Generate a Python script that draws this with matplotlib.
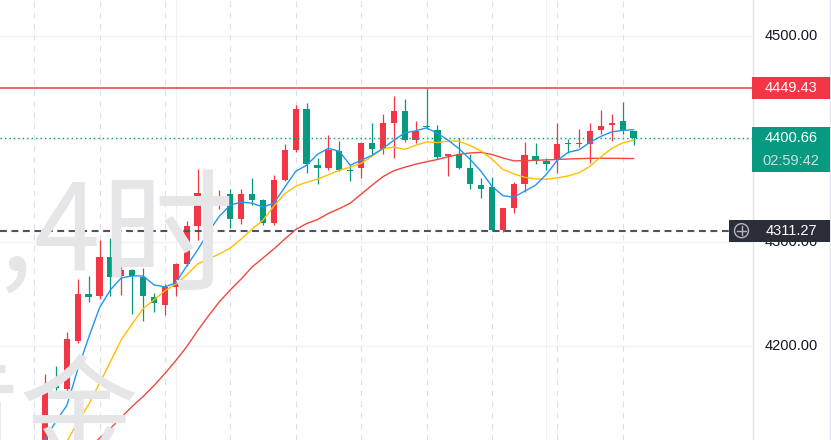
import numpy as np
import matplotlib
matplotlib.use("Agg")
import matplotlib.pyplot as plt
from matplotlib.patches import Rectangle, Ellipse

# ---------------- data (4h candles) ----------------
opens = [4090.0, 4161.7, 4158.5, 4204.5, 4249.9, 4247.6, 4286.2, 4267.5, 4273.3, 4266.9,
         4247.0, 4239.6, 4257.2, 4278.8, 4315.8, 4347.9, 4340.2, 4346.6, 4322.5, 4346.6,
         4340.8, 4318.4, 4360.1, 4389.1, 4429.3, 4374.6, 4372.0, 4388.4, 4370.5, 4372.0,
         4396.1, 4390.7, 4415.4, 4427.0, 4399.4, 4413.0, 4408.5, 4383.3, 4385.2, 4372.4,
         4355.3, 4353.1, 4311.9, 4333.4, 4356.9, 4383.3, 4378.5, 4379.4, 4396.1, 4394.9,
         4395.5, 4408.4, 4413.2, 4417.0, 4407.4]
highs = [4172.7, 4180.0, 4213.5, 4264.6, 4267.8, 4302.3, 4303.9, 4284.6, 4274.3, 4275.0,
         4251.4, 4259.5, 4280.4, 4320.3, 4371.4, 4357.9, 4350.5, 4352.1, 4352.1, 4361.8,
         4341.5, 4364.9, 4394.9, 4433.4, 4434.7, 4382.0, 4403.5, 4398.0, 4374.6, 4397.1,
         4415.4, 4423.8, 4441.2, 4438.9, 4417.3, 4449.43, 4413.2, 4385.2, 4401.3, 4385.9,
         4362.7, 4363.3, 4333.5, 4358.0, 4397.1, 4396.5, 4382.0, 4415.8, 4400.4, 4410.0,
         4415.4, 4428.3, 4424.5, 4435.7, 4407.4]
lows = [4080.0, 4153.7, 4151.1, 4203.0, 4242.7, 4245.5, 4247.6, 4249.2, 4230.9, 4223.4,
        4232.5, 4229.9, 4247.6, 4277.0, 4302.3, 4328.0, 4332.2, 4313.5, 4317.4, 4336.0,
        4316.7, 4317.0, 4359.0, 4387.0, 4367.2, 4356.3, 4370.5, 4368.8, 4359.5, 4362.4,
        4385.2, 4385.9, 4382.0, 4397.1, 4396.1, 4409.5, 4380.4, 4364.0, 4371.4, 4351.2,
        4343.4, 4311.27, 4310.0, 4328.0, 4348.9, 4376.2, 4370.5, 4367.2, 4386.5, 4392.3,
        4376.8, 4405.2, 4398.0, 4404.5, 4393.9]
closes = [4161.7, 4159.2, 4206.5, 4250.2, 4247.0, 4286.2, 4266.9, 4273.3, 4267.8, 4247.6,
          4241.2, 4257.2, 4278.8, 4315.8, 4347.9, 4340.2, 4341.5, 4322.5, 4346.6, 4340.8,
          4318.4, 4360.1, 4389.7, 4429.3, 4375.6, 4372.4, 4389.7, 4369.8, 4369.1, 4396.1,
          4390.7, 4415.4, 4427.0, 4399.4, 4407.7, 4411.2, 4382.6, 4385.2, 4372.4, 4356.3,
          4351.2, 4311.9, 4332.8, 4356.9, 4384.2, 4378.8, 4376.2, 4394.9, 4394.9, 4396.1,
          4407.7, 4412.5, 4415.8, 4408.4, 4400.66]

ma5 = [4109.3, 4126.7, 4142.1, 4176.9, 4207.7, 4236.7, 4254.0, 4265.6, 4267.5, 4267.5,
       4258.8, 4256.9, 4260.8, 4277.2, 4292.6, 4310.0, 4325.4, 4336.0, 4338.9, 4337.9,
       4334.1, 4337.9, 4353.4, 4368.8, 4374.6, 4385.2, 4391.0, 4388.1, 4374.6, 4379.4,
       4384.2, 4391.0, 4398.7, 4406.0, 4407.9, 4410.8, 4405.5, 4398.7, 4390.5, 4380.4,
       4368.8, 4354.3, 4345.2, 4343.7, 4349.5, 4355.3, 4365.9, 4379.4, 4387.1, 4389.6,
       4396.8, 4402.6, 4406.9, 4408.4, 4409.0]
ma10 = [4068.8, 4088.1, 4107.4, 4125.7, 4143.1, 4163.3, 4184.6, 4205.8, 4221.2, 4235.7,
        4244.4, 4253.1, 4259.8, 4268.5, 4279.1, 4283.9, 4288.8, 4294.5, 4303.2, 4312.9,
        4321.5, 4335.1, 4347.1, 4354.3, 4358.2, 4361.1, 4365.4, 4369.8, 4372.7, 4376.5,
        4383.3, 4390.5, 4392.3, 4390.0, 4393.9, 4397.2, 4396.6, 4398.0, 4397.9, 4393.6,
        4388.6, 4380.6, 4370.7, 4366.3, 4363.0, 4361.3, 4361.1, 4362.4, 4364.3, 4367.4,
        4373.6, 4382.8, 4391.0, 4396.3, 4398.7]
ma20 = [4056.3, 4066.9, 4077.5, 4089.1, 4099.7, 4110.3, 4119.9, 4130.6, 4141.2, 4150.8,
        4161.4, 4173.0, 4185.5, 4199.0, 4214.5, 4228.9, 4242.5, 4254.0, 4264.6, 4276.2,
        4284.9, 4293.6, 4303.2, 4312.4, 4318.2, 4322.0, 4328.0, 4332.6, 4337.9, 4346.6,
        4355.3, 4363.5, 4369.3, 4372.7, 4375.6, 4378.0, 4380.2, 4382.8, 4385.2, 4386.5,
        4387.1, 4385.0, 4381.7, 4378.9, 4379.0, 4379.4, 4379.8, 4380.2, 4380.7, 4381.0,
        4381.3, 4381.4, 4381.3, 4381.2, 4381.1]

price_ticks = [4200.0, 4300.0, 4400.0, 4500.0]
session_breaks = [-1, 5, 11, 17, 23, 29, 35, 41, 47, 53]
week_breaks = [12, 46]
high_line = 4449.43
last_price = 4400.66
countdown = "02:59:42"
marked_line = 4311.27
wm_symbol = "XAUUSD,"
wm_interval_num = "4"
wm_interval_unit = "时"
wm_desc = "现货黄金"

# ---------------- style ----------------
RED = "#f23645"
GREEN = "#089981"
W, H = 831, 440
PLOT_W = 752
X0, DX = 45.0, 10.9
YLO, YHI = 4108.7, 4534.55
WM = "#e6e6e9"
CJK = ["Noto Sans CJK SC", "DejaVu Sans"]

fig = plt.figure(figsize=(W / 100, H / 100), dpi=100)
fig.patch.set_facecolor("white")

# watermark
fig.text(34 / W, 1 - 270 / H, wm_symbol, ha="right", va="baseline",
         fontsize=86, color=WM, family=CJK, zorder=0)
fig.text(34 / W, 1 - 270 / H, wm_interval_num, ha="left", va="baseline",
         fontsize=86, color=WM, family=CJK, zorder=0)
fig.text(100 / W, 1 - 281 / H, wm_interval_unit, ha="left", va="baseline",
         fontsize=96, color=WM, family=CJK, zorder=0)
fig.text(140 / W, 1 - 455 / H, wm_desc, ha="right", va="baseline",
         fontsize=86, color=WM, family=CJK, zorder=0)

ax = fig.add_axes([0, 0, PLOT_W / W, 1])
ax.patch.set_alpha(0)
ax.set_xlim(-X0 / DX, (PLOT_W - X0) / DX)
ax.set_ylim(YLO, YHI)
ax.axis("off")

# grid
for p in price_ticks:
    ax.axhline(p, color="#f0f3fa", lw=1.0, zorder=1)
for b in session_breaks:
    ax.axvline(b, color="#dcdfe8", lw=0.8, dashes=(5, 5), zorder=1)
for b in week_breaks:
    ax.axvline(b, color="#eef0f5", lw=0.8, zorder=1)

n = len(closes)
x = np.arange(n)
o = np.array(opens); c = np.array(closes)
h = np.array(highs); l = np.array(lows)
cols = np.where(c >= o, RED, GREEN)
ax.vlines(x, l, h, colors=cols, lw=0.9, zorder=3)
bottom = np.minimum(o, c)
height = np.maximum(np.abs(c - o), 1.2)
ax.bar(x, height, bottom=bottom, width=0.58, color=cols, edgecolor="none", zorder=4)

ax.plot(x, ma20, color="#f0483e", lw=1.0, zorder=5)
ax.plot(x, ma10, color="#ffbf00", lw=1.0, zorder=5)
ax.plot(x, ma5, color="#2196f3", lw=1.0, zorder=6)

# overlay in pixel x / price y
ov = fig.add_axes([0, 0, 1, 1])
ov.patch.set_alpha(0)
ov.set_xlim(0, W)
ov.set_ylim(YLO, YHI)
ov.axis("off")

ov.plot([0, PLOT_W], [high_line, high_line], color=RED, lw=1.1, zorder=7)
ov.plot([0, PLOT_W], [last_price, last_price], color=GREEN, lw=1.0, ls=(0, (1, 2.2)), zorder=7)
ov.plot([0, 729], [marked_line, marked_line], color="#50535e", lw=1.5, dashes=(3.3, 2.2), zorder=7)

ov.axvline(PLOT_W + 0.5, color="#e0e3eb", lw=1.0)
ov.axvline(830, color="#e0e3eb", lw=1.0)

FONT = ["Liberation Sans", "DejaVu Sans"]
LX = 791
for p in price_ticks:
    ov.text(LX, p, f"{p:.2f}", ha="center", va="center", fontsize=10.5,
            color="#131722", family=FONT, zorder=8)

pu = (YHI - YLO) / H  # price units per pixel
bh = 22.6 * pu
ov.add_patch(Rectangle((PLOT_W, high_line - bh / 2), 78, bh, color=RED, zorder=9, lw=0))
ov.text(LX, high_line, f"{high_line:.2f}", ha="center", va="center", fontsize=10.5,
        color="white", family=FONT, zorder=10)

top = last_price + 11.3 * pu
bot = last_price - 34.0 * pu
ov.add_patch(Rectangle((PLOT_W, bot), 78, top - bot, color=GREEN, zorder=9, lw=0))
ov.text(LX, last_price, f"{last_price:.2f}", ha="center", va="center", fontsize=10.5,
        color="white", family=FONT, zorder=10)
ov.text(LX, last_price - 22.8 * pu, countdown, ha="center", va="center", fontsize=10.5,
        color="white", alpha=0.75, family=FONT, zorder=10)

mh = 22.3 * pu
ov.add_patch(Rectangle((729, marked_line - mh / 2), 101, mh, color="#2a2e39", zorder=9, lw=0))
ov.text(LX, marked_line, f"{marked_line:.2f}", ha="center", va="center", fontsize=10.5,
        color="white", family=FONT, zorder=10)
# crosshair icon
ov.add_patch(Ellipse((741.5, marked_line), 14, 14 * pu, fill=False, ec="#b2b5be", lw=1.0, zorder=10))
ov.plot([737, 746], [marked_line, marked_line], color="#b2b5be", lw=1.0, zorder=10)
ov.plot([741.5, 741.5], [marked_line - 4.5 * pu, marked_line + 4.5 * pu], color="#b2b5be", lw=1.0, zorder=10)

fig.savefig("out.png", dpi=100, facecolor="white")
